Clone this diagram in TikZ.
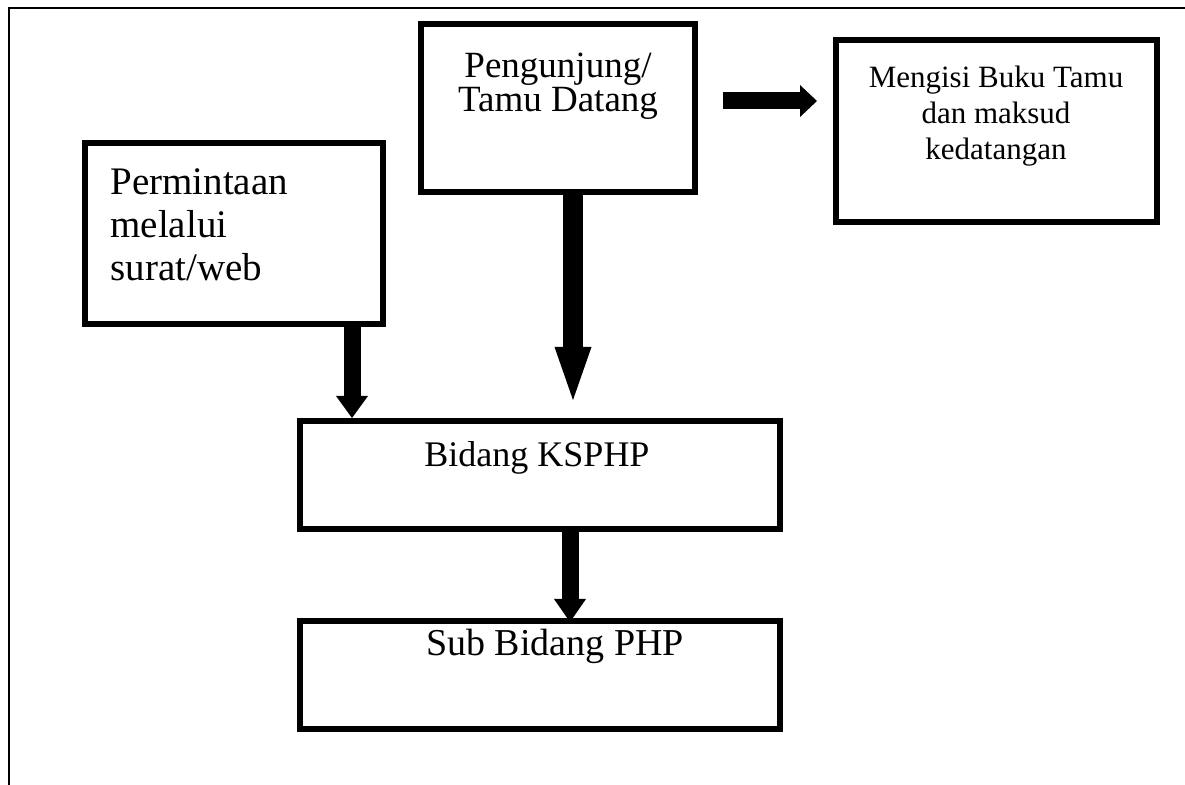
\documentclass[tikz,border=0pt]{standalone}
\usepackage{fontspec}
\setmainfont{Liberation Serif}
\usetikzlibrary{arrows.meta}
\begin{document}
\begin{tikzpicture}[x=0.5pt,y=-0.5pt,
  box/.style={draw, line width=3pt, inner sep=0pt, minimum width=#1},
  txt/.style={inner sep=0pt, text=black},
]
\useasboundingbox (0,0) rectangle (1185,785);
% outer frame
\coordinate (tl) at (9,8);
\coordinate (tr) at (1190,8);
\coordinate (bl) at (9,790);
\draw[line width=1.2pt] (tr) -- (tl) -- (bl);

% boxes
\node[box=137pt, minimum height=84pt] (peng) at (558,108) {};
\node[box=160.5pt, minimum height=91pt] (meng) at (996.5,131) {};
\node[box=149pt, minimum height=90.5pt] (perm) at (234,233.5) {};
\node[box=240pt, minimum height=54pt] (bid) at (540,475) {};
\node[box=240pt, minimum height=54pt] (sub) at (540,675) {};

% texts (base anchor = baseline of last line)
\node[txt, anchor=base, align=center, font=\fontsize{18.5pt}{16pt}\selectfont] (pengt) at (558,112) {Pengunjung/\\Tamu Datang};
\node[txt, anchor=base, align=center, font=\fontsize{15.5pt}{18pt}\selectfont] (mengt) at (996,160) {Mengisi Buku Tamu\\dan maksud\\kedatangan};
\node[txt, anchor=base west, align=left, font=\fontsize{19.5pt}{21.5pt}\selectfont] (permt) at (110,281) {Permintaan\\melalui\\surat/web};
\node[txt, anchor=base, font=\fontsize{18pt}{20pt}\selectfont] (bidt) at (537,467) {Bidang KSPHP};
\node[txt, anchor=base, font=\fontsize{19pt}{22pt}\selectfont] (subt) at (555,656) {Sub Bidang PHP};

% arrows
\draw[line width=8.5pt, -{Triangle[length=11pt,width=16pt,line width=0pt]}]
  ([xshift=59pt]perm.south) -- ([xshift=59pt]perm.south |- bid.north);
\draw[line width=10pt, -{Triangle[length=26.5pt,width=18.5pt,line width=0pt]}, shorten >=9pt]
  ([xshift=7.5pt]peng.south) -- ([xshift=7.5pt]peng.south |- bid.north);
\draw[line width=8.5pt, -{Triangle[length=11.5pt,width=16pt,line width=0pt]}, shorten >=-2pt]
  ([xshift=15pt]bid.south) -- ([xshift=15pt]bid.south |- sub.north);
\draw[line width=8.5pt, -{Triangle[length=8.5pt,width=16pt,line width=0pt]}, shorten <=12.5pt, shorten >=8pt]
  ([yshift=3.5pt]peng.east) -- ([yshift=3.5pt]peng.east -| meng.west);
\end{tikzpicture}
\end{document}
